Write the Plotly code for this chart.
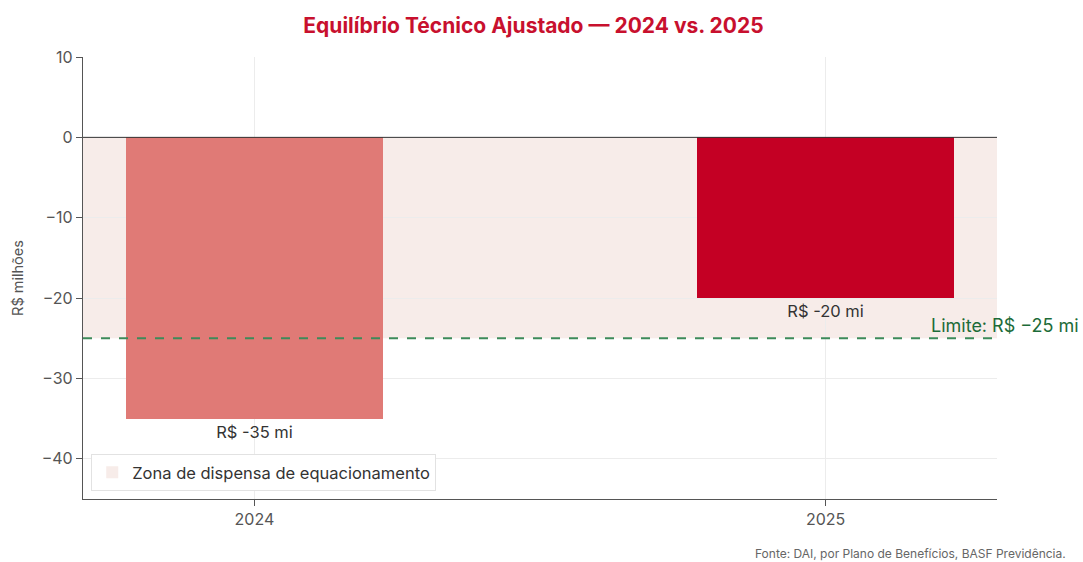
import plotly.graph_objects as go

years = ["2024", "2025"]
values = [-35, -20]
bar_labels = ["R$ -35 mi", "R$ -20 mi"]
bar_colors = ["#e07a76", "#c40024"]
limit = -25
limit_label = "Limite: R$ \u221225 mi"
zone_label = "Zona de dispensa de equacionamento"
title = "Equilíbrio Técnico Ajustado — 2024 vs. 2025"
source = "Fonte: DAI, por Plano de Benefícios, BASF Previdência."

xpos = list(range(len(years)))
xlo, xhi = -0.3, len(years) - 1 + 0.3
FONT = "Inter, Roboto, sans-serif"

fig = go.Figure()

# zone (below traces, with legend entry)
fig.add_shape(type="rect", xref="x", yref="y", x0=xlo, x1=xhi, y0=limit, y1=0,
              fillcolor="rgba(238,212,206,0.45)", line=dict(width=0), layer="below",
              showlegend=True, name=zone_label)

fig.add_trace(go.Bar(
    x=xpos, y=values, width=0.45, marker=dict(color=bar_colors, line=dict(width=0)),
    text=bar_labels, textposition="outside", cliponaxis=False,
    textfont=dict(size=16.5, color="#333333", family=FONT),
    showlegend=False))

# zero line
fig.add_trace(go.Scatter(x=[xlo, xhi], y=[0, 0], mode="lines",
                         line=dict(color="#333333", width=1), showlegend=False, hoverinfo="skip"))
# limit line
fig.add_trace(go.Scatter(x=[xlo, xhi], y=[limit, limit], mode="lines",
                         line=dict(color="#3d8a5a", width=1.8, dash="dash"),
                         showlegend=False, hoverinfo="skip"))

fig.add_annotation(x=xhi, y=limit, xref="x", yref="y", text=limit_label,
                   showarrow=False, xanchor="right", yanchor="bottom", xshift=84, yshift=0,
                   font=dict(size=18, color="#1c6b38", family=FONT))

fig.add_annotation(x=(1068 - 83) / 914, y=(499 - 553) / 442, xref="paper", yref="paper",
                   yanchor="middle", xanchor="right", text=source, showarrow=False,
                   font=dict(size=12, color="#666666", family=FONT))

fig.update_layout(
    width=1083, height=562,
    margin=dict(l=83, r=86, t=57, b=63),
    paper_bgcolor="white", plot_bgcolor="white",
    font=dict(family=FONT, color="#555555", size=16),
    title=dict(text=f"<b>{title}</b>", x=533.5 / 1083, xanchor="center", xref="container",
               y=1 - 26 / 562, yanchor="middle", font=dict(size=21, color="#c8102e", family=FONT)),
    bargap=0,
    legend=dict(x=0.009, y=0.018, xanchor="left", yanchor="bottom",
                bgcolor="white", bordercolor="#e2e2e2", borderwidth=1,
                font=dict(size=16.5, color="#333333", family=FONT)),
    xaxis=dict(range=[xlo, xhi], tickvals=xpos, ticktext=years,
               showgrid=True, gridcolor="#ececec", gridwidth=1,
               showline=True, linecolor="#555555", linewidth=1.2,
               ticks="outside", ticklen=6, tickcolor="#555555",
               tickfont=dict(size=16, color="#555555"), zeroline=False),
    yaxis=dict(range=[-45, 10], tickvals=[-40, -30, -20, -10, 0, 10],
               showgrid=True, gridcolor="#ececec", gridwidth=1,
               showline=True, linecolor="#555555", linewidth=1.2,
               ticks="outside", ticklen=6, tickcolor="#555555",
               tickfont=dict(size=16, color="#555555"), zeroline=False,
               title=dict(text="R$ milhões", font=dict(size=14.5, color="#555555"), standoff=14)),
)

fig.write_html("out.html", config={"displayModeBar": False},
               post_script="document.body.style.margin='0';")
